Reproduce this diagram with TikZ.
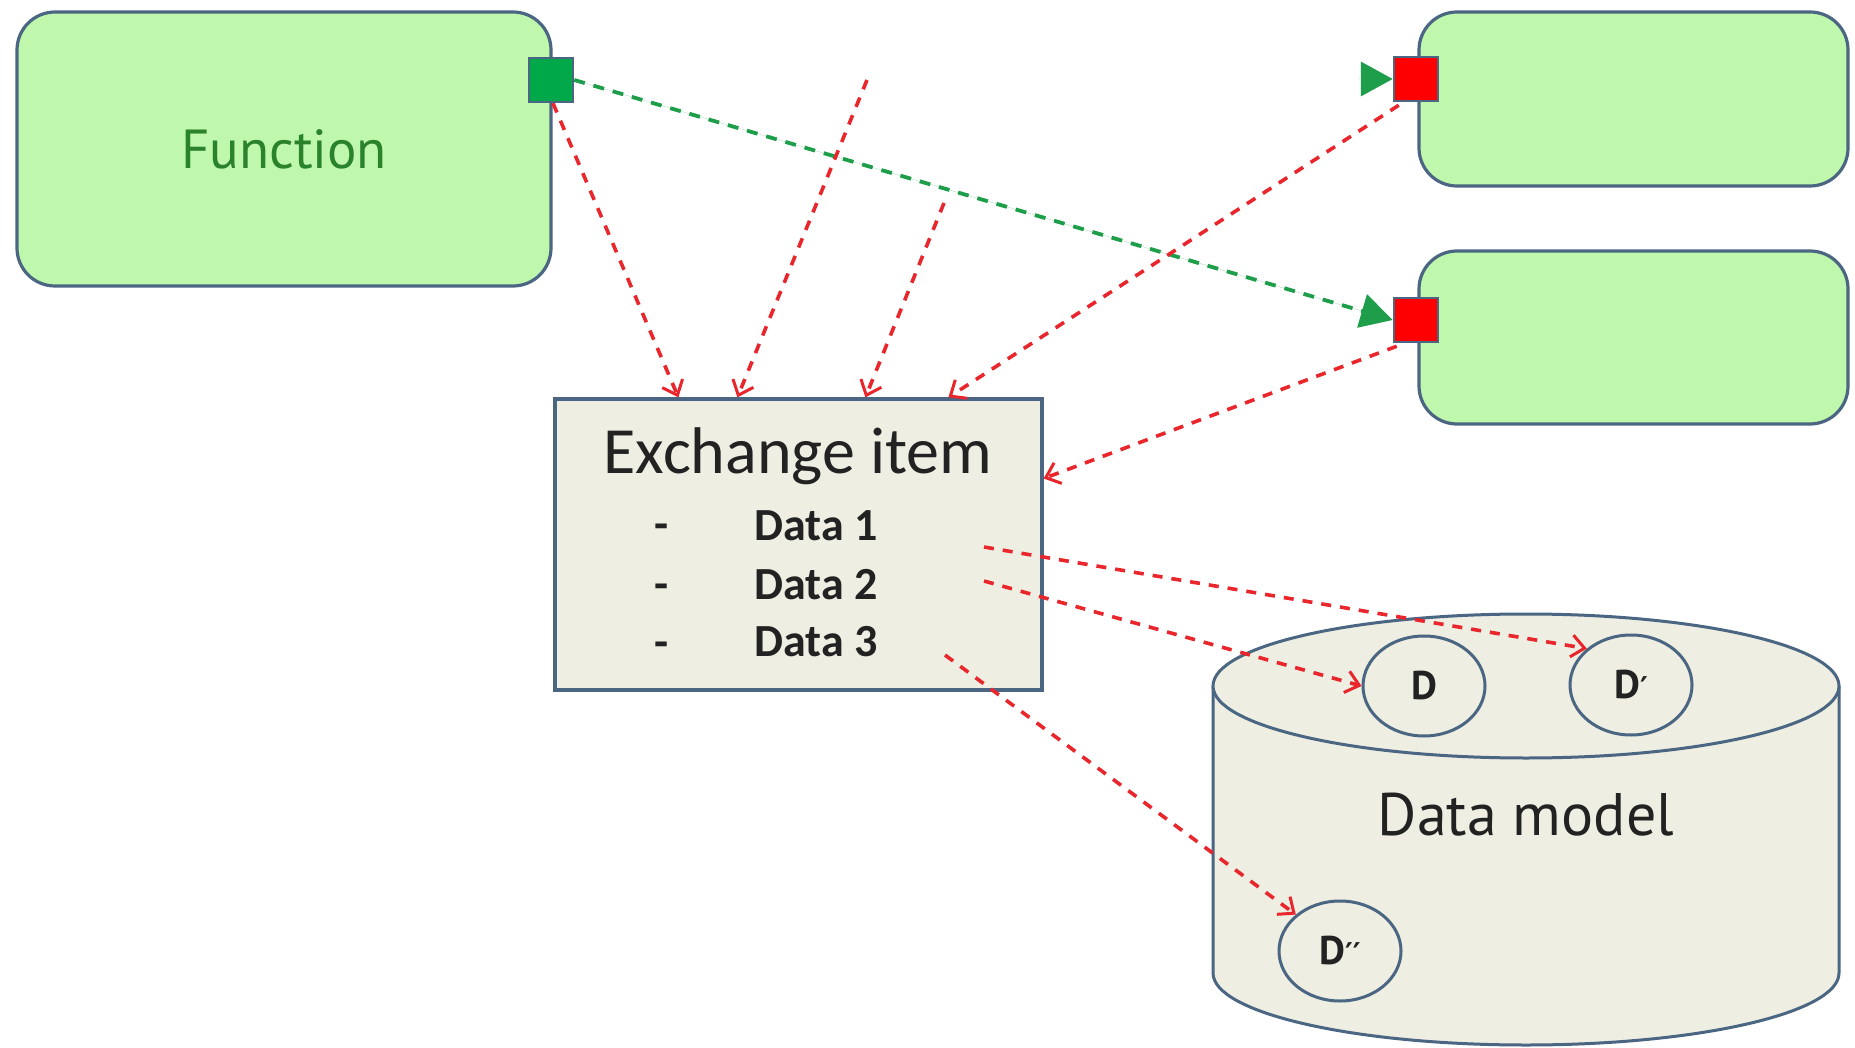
\documentclass[tikz,border=0pt]{standalone}
\usepackage{fontspec}
\setmainfont{Carlito}
\newfontfamily\ptsans{PT Sans}
\newfontfamily\djv{DejaVu Sans}
\usetikzlibrary{arrows.meta,shapes.geometric,calc}
\definecolor{boxgreen}{HTML}{BFF8AC}
\definecolor{edgeblue}{HTML}{4A6682}
\definecolor{exfill}{HTML}{EEEEE2}
\definecolor{portgreen}{HTML}{00A84A}
\definecolor{portred}{HTML}{FF0000}
\definecolor{linered}{HTML}{E8262C}
\definecolor{linegreen}{HTML}{1E9E4A}
\definecolor{textgreen}{HTML}{2A822A}
\definecolor{textdark}{HTML}{222222}
\begin{document}
\begin{tikzpicture}[x=1pt,y=-1pt,
  funcbox/.style={draw=edgeblue,line width=3.2pt,fill=boxgreen,rounded corners=38pt,inner sep=0pt},
  portbox/.style={draw=edgeblue,line width=2.5pt,minimum size=44pt,inner sep=0pt},
  exbox/.style={draw=edgeblue,line width=3.2pt,fill=exfill,inner sep=0pt},
  dcircle/.style={ellipse,draw=edgeblue,line width=3pt,minimum width=122pt,minimum height=100pt,inner sep=0pt,font=\ptsans\bfseries\fontsize{40}{44}\selectfont,text=textdark},
  redarrow/.style={draw=linered,line width=3.6pt,dash pattern=on 10pt off 9pt,-{Straight Barb[length=13pt,width=22pt,line width=3pt]}},
  greenarrow/.style={draw=linegreen,line width=3.8pt,dash pattern=on 11pt off 9pt,-{Triangle[length=32pt,width=34pt]},fill=linegreen},
  datarow/.style={anchor=west,font=\bfseries\fontsize{46}{50}\selectfont,text=textdark,inner sep=0pt},
  dashrow/.style={font=\bfseries\fontsize{46}{50}\selectfont,text=textdark,inner sep=0pt}
]
\useasboundingbox[fill=white] (0,0) rectangle (1855,1048);

% Function boxes
\node[funcbox,minimum width=534pt,minimum height=274pt,font=\ptsans\fontsize{55}{60}\selectfont,text=textgreen] (fn) at (284,149) {Function};
\node[funcbox,minimum width=429pt,minimum height=174pt] (f2) at (1633.5,99) {};
\node[funcbox,minimum width=429pt,minimum height=173pt] (f3) at (1633.5,337.5) {};

% Ports
\node[portbox,fill=portgreen] (gp) at (551,80) {};
\node[portbox,fill=portred] (rp1) at (1416,79) {};
\node[portbox,fill=portred] (rp2) at (1416,320) {};

% Exchange item
\node[exbox,minimum width=487pt,minimum height=291pt] (ex) at (798.5,544.5) {};
\node[font=\fontsize{66}{70}\selectfont,text=textdark,inner sep=0pt] (extitle) at (798,456) {Exchange item};
\node[dashrow] (m1) at (662,532) {-};
\node[dashrow] (m2) at (662,592) {-};
\node[dashrow] (m3) at (662,650) {-};
\node[datarow] (t1) at (754,526) {Data 1};
\node[datarow] (t2) at (754,585) {Data 2};
\node[datarow] (t3) at (754,642) {Data 3};

% Data model cylinder
\filldraw[fill=exfill,draw=edgeblue,line width=3pt] (1213,686) -- (1213,973)
  arc[start angle=180,end angle=0,x radius=313,y radius=72] -- (1839,686);
\draw[fill=exfill,draw=edgeblue,line width=3pt] (1526,686) ellipse[x radius=313,y radius=72];
\node[font=\ptsans\fontsize{60}{66}\selectfont,text=textdark,inner sep=0pt] (dm) at (1526,815) {Data model};
\node[dcircle] (d1) at (1424,686) {D};
\node[dcircle] (d2) at (1631,685) {D{\djv\bfseries\fontsize{30}{30}\selectfont ′}};
\node[dcircle] (d3) at (1340,951) {D{\djv\bfseries\fontsize{30}{30}\selectfont ′′}};

% free ends
\coordinate (s1) at (867,80);
\coordinate (s2) at (944,203);
\coordinate (g1) at (1358,79);
\coordinate (r1) at (984,547);
\coordinate (r2) at (984,581);
\coordinate (r3) at (945,655);

% green connectors
\draw[greenarrow] (gp.east) -- (rp2.west);
\draw[greenarrow,dash pattern=on 0pt off 0pt] (g1) -- (rp1.west);

% red connectors into exchange item
\draw[redarrow] ([xshift=2pt]gp.south) -- ([xshift=125pt]ex.north west);
\draw[redarrow] (s1) -- ([xshift=184pt]ex.north west);
\draw[redarrow] (s2) -- ([xshift=312pt]ex.north west);
\draw[redarrow] ([xshift=6pt,yshift=-3pt]rp1.south west) -- ([xshift=395pt]ex.north west);
\draw[redarrow] ([xshift=4pt,yshift=-3pt]rp2.south west) -- ([yshift=66pt]ex.east);

% red connectors into data model
\draw[redarrow] (r1) -- (d2.north west);
\draw[redarrow] (r2) -- (d1.west);
\draw[redarrow] (r3) -- (d3.north west);
\end{tikzpicture}
\end{document}
